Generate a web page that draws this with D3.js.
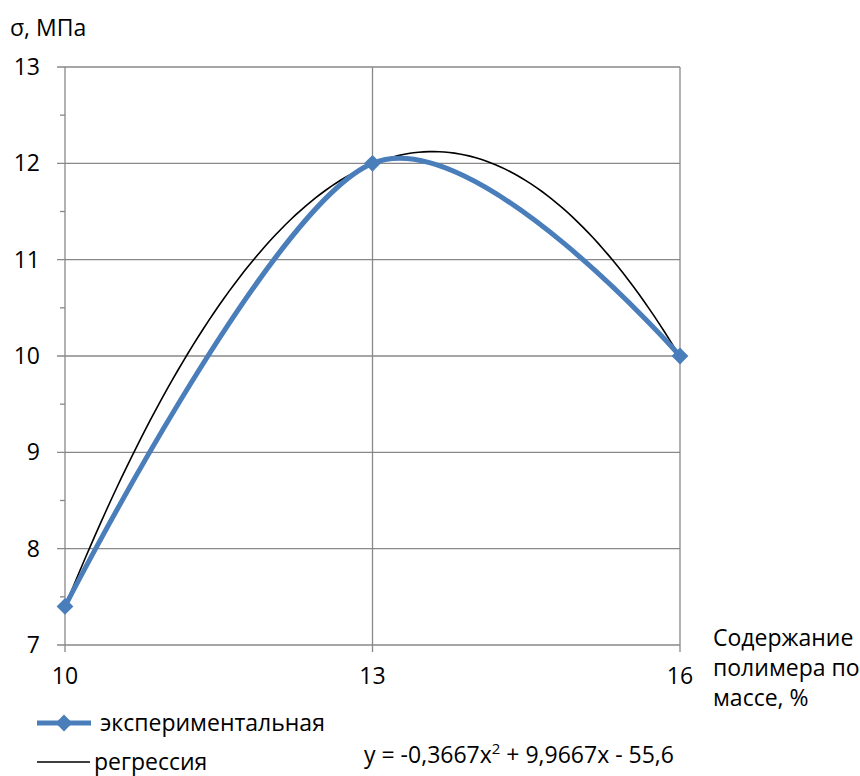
<!DOCTYPE html>
<html>
<head>
<meta charset="utf-8">
<script src="https://cdn.jsdelivr.net/npm/d3@7"></script>
<style>
  html, body { margin: 0; padding: 0; background: #fff; }
  svg text { font-family: "Open Sans", sans-serif; fill: #000; }
</style>
</head>
<body>
<svg id="chart" width="860" height="776"></svg>
<script>
// Polymer content (% by mass) and measured strength σ (MPa)
const content = [10, 13, 16];
const strength = [7.4, 12, 10];
// Quadratic trendline coefficients: a·x² + b·x + c
const trend = [-0.3667, 9.9667, -55.6];
const xTicks = [10, 13, 16];
const yTicks = [7, 8, 9, 10, 11, 12, 13];
const yMinor = [7.5, 8.5, 9.5, 10.5, 11.5, 12.5];
const seriesNames = ["экспериментальная", "регрессия"];

const svg = d3.select("#chart");
const x = d3.scaleLinear().domain([10, 16]).range([65, 680]);
const y = d3.scaleLinear().domain([7, 13]).range([645, 67]);
const gridColor = "#888";
const fs = 23;

// horizontal grid lines with left ticks
svg.append("g").selectAll("line").data(yTicks).join("line")
  .attr("x1", x(10) - 8).attr("x2", x(16))
  .attr("y1", d => y(d)).attr("y2", d => y(d))
  .attr("stroke", gridColor).attr("stroke-width", 1.3);
svg.append("g").selectAll("line").data(yMinor).join("line")
  .attr("x1", x(10) - 5).attr("x2", x(10))
  .attr("y1", d => y(d)).attr("y2", d => y(d))
  .attr("stroke", gridColor).attr("stroke-width", 1.3);
// vertical grid lines with bottom ticks
svg.append("g").selectAll("line").data(xTicks).join("line")
  .attr("x1", d => x(d)).attr("x2", d => x(d))
  .attr("y1", y(13)).attr("y2", y(7) + 7)
  .attr("stroke", gridColor).attr("stroke-width", 1.3);

// tick labels
svg.append("g").selectAll("text").data(yTicks).join("text")
  .attr("x", 40).attr("y", d => y(d) + 8)
  .attr("text-anchor", "end").attr("font-size", fs)
  .text(d => d);
svg.append("g").selectAll("text").data(xTicks).join("text")
  .attr("x", d => x(d)).attr("y", 684)
  .attr("text-anchor", "middle").attr("font-size", fs)
  .text(d => d);

// axis titles
svg.append("text").attr("x", 10).attr("y", 36).attr("font-size", fs).text("σ, МПа");
const xt = svg.append("text").attr("font-size", fs);
["Содержание", "полимера по", "массе, %"].forEach((s, i) =>
  xt.append("tspan").attr("x", 713).attr("y", 646 + i * 30).text(s));

// regression curve sampled from the trendline coefficients
const f = v => trend[0] * v * v + trend[1] * v + trend[2];
const xs = d3.range(10, 16.0001, 0.05);
svg.append("path")
  .attr("d", d3.line().x(d => x(d)).y(d => y(f(d)))(xs))
  .attr("fill", "none").attr("stroke", "#000").attr("stroke-width", 1.6);

// experimental series, smoothed
const pts = content.map((c, i) => [c, strength[i]]);
svg.append("path")
  .attr("d", d3.line().x(d => x(d[0])).y(d => y(d[1])).curve(d3.curveCardinal.tension(0))(pts))
  .attr("fill", "none").attr("stroke", "#4a7ebb").attr("stroke-width", 5);
const diamond = d3.symbol().type(d3.symbolDiamond2).size(180);
svg.append("g").selectAll("path").data(pts).join("path")
  .attr("transform", d => `translate(${x(d[0])},${y(d[1])})`)
  .attr("d", diamond).attr("fill", "#4a7ebb");

// legend
svg.append("line").attr("x1", 37).attr("x2", 91).attr("y1", 723).attr("y2", 723)
  .attr("stroke", "#4a7ebb").attr("stroke-width", 5);
svg.append("path").attr("transform", "translate(64,723)").attr("d", diamond).attr("fill", "#4a7ebb");
svg.append("text").attr("x", 100).attr("y", 731).attr("font-size", fs).text(seriesNames[0]);
svg.append("line").attr("x1", 37).attr("x2", 90).attr("y1", 762).attr("y2", 762)
  .attr("stroke", "#000").attr("stroke-width", 1.5);
svg.append("text").attr("x", 94).attr("y", 770).attr("font-size", fs).text(seriesNames[1]);

// trendline equation
const fmt = v => Math.abs(v).toString().replace(".", ",");
const eq = svg.append("text").attr("x", 364).attr("y", 763).attr("font-size", fs);
eq.append("tspan").text(`y = ${trend[0] < 0 ? "-" : ""}${fmt(trend[0])}x`);
eq.append("tspan").attr("dy", -9).attr("font-size", 15).text("2");
eq.append("tspan").attr("dy", 9).text(` ${trend[1] < 0 ? "-" : "+"} ${fmt(trend[1])}x ${trend[2] < 0 ? "-" : "+"} ${fmt(trend[2])}`);
</script>
</body>
</html>
